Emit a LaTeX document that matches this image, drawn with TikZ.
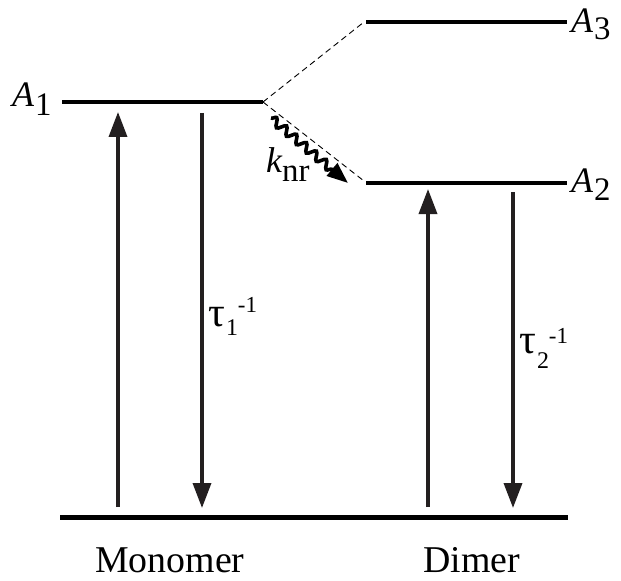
\documentclass[tikz,border=0pt]{standalone}
\usepackage{fontspec}
\setmainfont{Liberation Serif}
\usetikzlibrary{arrows.meta,decorations.pathmorphing}
\definecolor{ink}{HTML}{231F20}
\begin{document}
\begin{tikzpicture}[x=1bp,y=-1bp,
  level/.style={line width=4.4bp,black},
  ground/.style={line width=5bp,black},
  trans/.style={line width=3.5bp,ink,-{Triangle[length=25bp,width=18bp]}},
  dashline/.style={line width=0.9bp,black,dash pattern=on 6bp off 4bp},
  wavy/.style={line width=3.6bp,black,decorate,
    decoration={snake,amplitude=4bp,segment length=13bp,post length=20bp},
    -{Triangle[length=21bp,width=16bp]}},
  lbl/.style={inner sep=0pt,anchor=base west,font=\fontsize{36}{36}\selectfont},
  caption/.style={inner sep=0pt,anchor=base west,font=\fontsize{38}{38}\selectfont},
  tau/.style={inner sep=0pt,anchor=base west,font=\fontsize{42}{42}\selectfont}]
\useasboundingbox (0,0) rectangle (621,581);
% level coordinates
\coordinate (a1l) at (62,102);
\coordinate (a1r) at (263,102);
\coordinate (a3l) at (366,22);
\coordinate (a3r) at (567,22);
\coordinate (a2l) at (366,183);
\coordinate (a2r) at (567,183);
\coordinate (gl) at (60,517);
\coordinate (gr) at (568,517);
\coordinate (d3) at (364,22);
\coordinate (d2) at (364,181);
% levels
\draw[level] (a1l) -- (a1r);
\draw[level] (a3l) -- (a3r);
\draw[level] (a2l) -- (a2r);
\draw[ground] (gl) -- (gr);
% dashed correlations
\draw[dashline] (a1r) -- (d3);
\draw[dashline] (a1r) -- (d2);
% transitions
\coordinate (mu0) at (118,507);
\coordinate (mu1) at (118,112);
\coordinate (md0) at (202,113);
\coordinate (md1) at (202,508);
\coordinate (du0) at (428,507);
\coordinate (du1) at (428,189);
\coordinate (dd0) at (513,192);
\coordinate (dd1) at (513,508);
\draw[trans] (mu0) -- (mu1);
\draw[trans] (md0) -- (md1);
\draw[trans] (du0) -- (du1);
\draw[trans] (dd0) -- (dd1);
% nonradiative
\coordinate (w0) at (271,118);
\coordinate (w1) at (348,183);
\draw[wavy] (w0) -- (w1);
% labels
\node[lbl] (A1) at (12,107) {\itshape A\kern1bp\raisebox{-9bp}{\upshape\fontsize{33}{33}\selectfont 1}};
\node[lbl] (A3) at (571,33) {\itshape A\kern1bp\raisebox{-7bp}{\upshape\fontsize{33}{33}\selectfont 3}};
\node[lbl] (A2) at (571,192) {\itshape A\kern1bp\raisebox{-8bp}{\upshape\fontsize{33}{33}\selectfont 2}};
\node[lbl] (knr) at (266,173) {\itshape k\raisebox{-9bp}{\upshape\fontsize{33}{33}\selectfont nr}};
\node[tau] (t1) at (208,326) {τ\kern1bp\raisebox{-9bp}{\fontsize{24}{24}\selectfont 1}\raisebox{14bp}{\fontsize{23}{23}\selectfont -1}};
\node[tau] (t2) at (519,353) {τ\kern1bp\raisebox{-15bp}{\fontsize{24}{24}\selectfont 2}\raisebox{10bp}{\fontsize{23}{23}\selectfont -1}};
\node[caption] (mono) at (95,572) {Monomer};
\node[caption] (dim) at (423,572) {Dimer};
\end{tikzpicture}
\end{document}
